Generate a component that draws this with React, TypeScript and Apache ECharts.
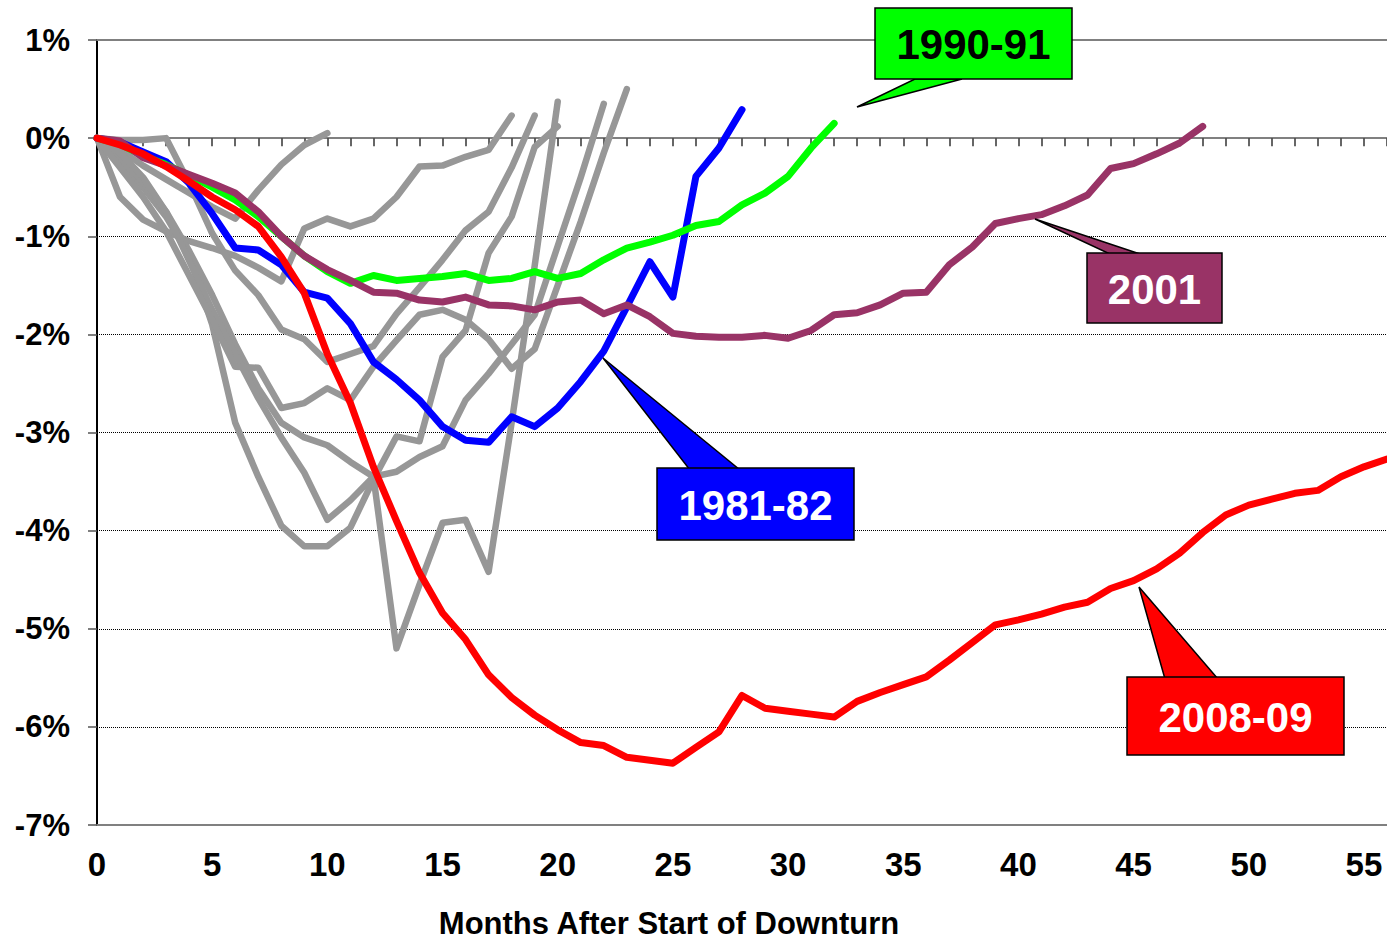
import React, { useEffect, useRef } from "react";
import * as echarts from "echarts";

const months: number[] = Array.from({ length: 57 }, (_, i) => i);
const yTicks = [-7, -6, -5, -4, -3, -2, -1, 0, 1];

const red0809 = [0, -0.07, -0.16, -0.29, -0.44, -0.6, -0.73, -0.9, -1.21, -1.58, -2.2, -2.7, -3.35, -3.9, -4.43, -4.84, -5.11, -5.47, -5.7, -5.88, -6.03, -6.16, -6.19, -6.31, -6.34, -6.37, -6.21, -6.05, -5.68, -5.81, -5.84, -5.87, -5.9, -5.74, -5.65, -5.57, -5.49, -5.32, -5.14, -4.96, -4.91, -4.85, -4.78, -4.73, -4.59, -4.51, -4.39, -4.23, -4.02, -3.84, -3.74, -3.68, -3.62, -3.59, -3.45, -3.35, -3.27];
const blue8182 = [0, -0.04, -0.14, -0.24, -0.46, -0.77, -1.12, -1.14, -1.29, -1.57, -1.63, -1.89, -2.28, -2.46, -2.67, -2.94, -3.08, -3.1, -2.84, -2.94, -2.75, -2.48, -2.17, -1.72, -1.26, -1.62, -0.39, -0.1, 0.29];
const green9091 = [0, -0.06, -0.18, -0.27, -0.38, -0.5, -0.63, -0.8, -1.0, -1.2, -1.36, -1.48, -1.4, -1.45, -1.43, -1.41, -1.38, -1.45, -1.43, -1.36, -1.43, -1.38, -1.24, -1.12, -1.06, -0.99, -0.89, -0.85, -0.68, -0.56, -0.39, -0.1, 0.15];
const purple2001 = [0, -0.03, -0.2, -0.28, -0.37, -0.46, -0.56, -0.75, -1.0, -1.2, -1.34, -1.45, -1.57, -1.58, -1.65, -1.67, -1.62, -1.7, -1.71, -1.75, -1.67, -1.65, -1.79, -1.7, -1.82, -1.99, -2.02, -2.03, -2.03, -2.01, -2.04, -1.96, -1.8, -1.78, -1.7, -1.58, -1.57, -1.29, -1.11, -0.87, -0.82, -0.78, -0.69, -0.58, -0.31, -0.26, -0.16, -0.05, 0.12];

const grayA = [0, -0.12, -0.28, -0.42, -0.56, -0.7, -0.82, -0.53, -0.27, -0.07, 0.05];
const grayB = [0, -0.6, -0.83, -0.95, -1.05, -1.12, -1.2, -1.32, -1.46, -0.92, -0.82, -0.9, -0.82, -0.6, -0.29, -0.28, -0.19, -0.12, 0.23];
const grayC = [0, -0.02, -0.02, 0, -0.46, -0.97, -1.35, -1.6, -1.95, -2.05, -2.28, -2.2, -2.12, -1.79, -1.52, -1.24, -0.94, -0.75, -0.3, 0.23];
const grayD = [0, -0.25, -0.5, -0.8, -1.2, -1.9, -2.9, -3.45, -3.95, -4.16, -4.16, -3.97, -3.48, -3.04, -3.09, -2.23, -1.96, -1.17, -0.8, -0.09, 0.12];
const grayE = [0, -0.2, -0.45, -0.75, -1.15, -1.6, -2.1, -2.55, -2.9, -3.05, -3.13, -3.3, -3.45, -5.2, -4.55, -3.92, -3.89, -4.42, -2.9, -1.3, 0.37];
const grayF = [0, -0.15, -0.4, -0.75, -1.25, -1.75, -2.2, -2.65, -3.05, -3.41, -3.89, -3.69, -3.45, -3.4, -3.25, -3.14, -2.67, -2.4, -2.1, -1.8, -1.1, -0.4, 0.35];
const grayG = [0, -0.3, -0.6, -0.95, -1.4, -1.85, -2.33, -2.34, -2.75, -2.7, -2.55, -2.67, -2.33, -2.06, -1.8, -1.75, -1.85, -2.05, -2.35, -2.15, -1.5, -0.85, -0.15, 0.5];
const grayLines = [grayA, grayB, grayC, grayD, grayE, grayF, grayG];

const labels1990 = "1990-91";
const labels2001 = "2001";
const labels1981 = "1981-82";
const labels2008 = "2008-09";
const xName = "Months After Start of Downturn";

const FONT = '"Liberation Sans", Arial, sans-serif';

function toPairs(arr: number[]) {
  return arr.map((v, i) => [months[i], v]);
}

function callout(
  text: string,
  fill: string,
  textColor: string,
  box: [number, number, number, number],
  pointer: number[][]
) {
  const [x, y, w, h] = box;
  return [
    {
      type: "polygon",
      z: 100,
      shape: { points: pointer },
      style: { fill, stroke: "#000", lineWidth: 1.5 },
    },
    {
      type: "rect",
      z: 101,
      shape: { x, y, width: w, height: h },
      style: { fill, stroke: "#000", lineWidth: 1.5 },
    },
    {
      type: "text",
      z: 102,
      x: x + w / 2,
      y: y + h / 2 + 1,
      style: {
        text,
        fill: textColor,
        font: `bold 42px ${FONT}`,
        align: "center",
        verticalAlign: "middle",
        textAlign: "center",
        textVerticalAlign: "middle",
      },
    },
  ];
}

export default function App() {
  const ref = useRef<HTMLDivElement>(null);
  useEffect(() => {
    if (!ref.current) return;
    const chart = echarts.init(ref.current, null, { renderer: "svg" });
    const lineBase = (color: string, width: number) => ({
      type: "line",
      showSymbol: false,
      symbol: "none",
      xAxisIndex: 0,
      yAxisIndex: 0,
      silent: true,
      lineStyle: { color, width, cap: "round", join: "round" },
    });
    const series: any[] = [];
    grayLines.forEach((g, i) => {
      series.push({ ...lineBase("#979797", 6.5), name: "gray" + i, data: toPairs(g) });
    });
    series.push({ ...lineBase("#0000FF", 7), name: labels1981, data: toPairs(blue8182) });
    series.push({ ...lineBase("#00FF00", 7), name: labels1990, data: toPairs(green9091) });
    series.push({ ...lineBase("#993366", 7), name: labels2001, data: toPairs(purple2001) });
    series.push({ ...lineBase("#FF0000", 7), name: labels2008, data: toPairs(red0809) });

    const option: any = {
      animation: false,
      backgroundColor: "#ffffff",
      grid: { left: 97, right: 0, top: 40, bottom: 119, containLabel: false },
      xAxis: [
        {
          type: "value",
          min: 0,
          max: 56,
          interval: 5,
          position: "bottom",
          axisLine: { onZero: false, lineStyle: { color: "#808080", width: 2 } },
          axisTick: { show: false },
          splitLine: { show: false },
          axisLabel: {
            color: "#000",
            fontSize: 33,
            fontWeight: "bold",
            fontFamily: FONT,
            margin: 23,
          },
        },
        {
          type: "value",
          min: 0,
          max: 56,
          interval: 1,
          position: "bottom",
          axisLine: { onZero: true, onZeroAxisIndex: 0, lineStyle: { color: "#808080", width: 2 } },
          axisTick: { show: true, length: 8, lineStyle: { color: "#333", width: 1.5 } },
          axisLabel: { show: false },
          splitLine: { show: false },
        },
        {
          type: "value",
          min: 0,
          max: 56,
          position: "top",
          axisLine: { show: true, lineStyle: { color: "#808080", width: 2 } },
          axisTick: { show: false },
          axisLabel: { show: false },
          splitLine: { show: false },
        },
      ],
      yAxis: {
        type: "value",
        min: yTicks[0],
        max: yTicks[yTicks.length - 1],
        interval: 1,
        axisLine: { show: true, onZero: false, lineStyle: { color: "#000", width: 2 } },
        axisTick: { show: true, length: 9, lineStyle: { color: "#555", width: 1.5 } },
        splitLine: { show: true, lineStyle: { color: "#000", type: "dotted", width: 1 } },
        axisLabel: {
          color: "#000",
          fontSize: 31,
          fontWeight: "bold",
          fontFamily: FONT,
          margin: 27,
          formatter: (v: number) => `${v}%`,
        },
      },
      graphic: [
        ...callout(labels1990, "#00FF00", "#000", [875, 8, 197, 71], [[915, 79], [962, 79], [857, 107]]),
        ...callout(labels2001, "#993366", "#fff", [1087, 253, 135, 70], [[1112, 255], [1143, 255], [1035, 219]]),
        ...callout(labels1981, "#0000FF", "#fff", [657, 468, 197, 72], [[690, 470], [740, 470], [603, 358]]),
        ...callout(labels2008, "#FF0000", "#fff", [1127, 677, 217, 78], [[1165, 679], [1218, 679], [1139, 587]]),
        {
          type: "text",
          z: 102,
          x: 669,
          y: 923,
          style: {
            text: xName,
            fill: "#000",
            font: `bold 31px ${FONT}`,
            align: "center",
            verticalAlign: "middle",
            textAlign: "center",
            textVerticalAlign: "middle",
          },
        },
      ],
      series,
    };
    chart.setOption(option);
    return () => chart.dispose();
  }, []);
  return (
    <div
      ref={ref}
      style={{ position: "absolute", left: 0, top: 0, width: 1387, height: 944, background: "#fff" }}
    />
  );
}
